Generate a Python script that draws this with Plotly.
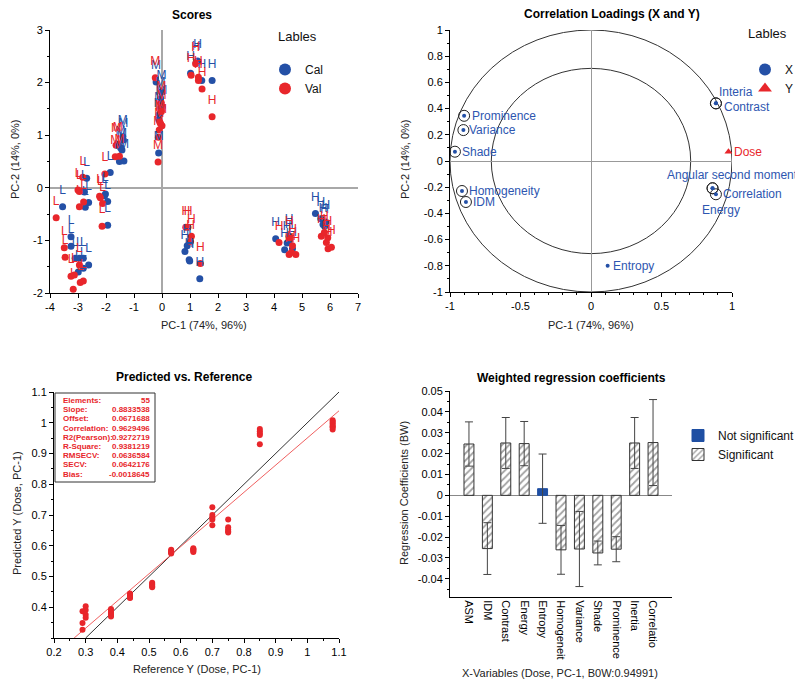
import plotly.graph_objects as go

# The page body has an 8px margin, so the figure is drawn 8px in from the top-left.
OFF = 8
W, H = 803 - OFF, 680 - OFF
BLUE = "#2450a6"
RED = "#e8262b"
TXTBLUE = "#2e56b0"
FONT = "Liberation Sans, Arial, sans-serif"

# ---------------- Scores data ----------------
cal_x = [-3.55, -3.25, -3.25, -3.10, -2.99, -2.95, -2.81, -2.81, -2.62, -2.69, -2.77, -2.62, -2.74,
         -1.85, -2.02, -1.94, -1.94, -2.05,
         -1.52, -1.36, -1.43, -1.38, -1.40, -1.48, -0.21, -0.02, 0.01, -0.05, -0.12, -0.10, -0.12, -0.05,
         1.02, 1.27, 1.42, 1.79, 1.22,
         0.82, 0.90, 0.99, 1.35, 0.97,
         4.06, 4.38, 4.47, 4.54, 4.66, 4.55,
         5.48, 5.67, 5.81, 5.85, 5.75]
cal_y = [-0.36, -0.93, -1.11, -1.34, -1.60, -1.34, -1.34, -1.53, -1.47, 0.18, -0.08, -0.28, -0.37,
         0.29, -0.12, -0.26, -0.71, -0.15,
         0.50, 0.51, 0.72, 0.91, 0.97, 0.76, 2.01, 1.82, 1.54, 1.52, 1.30, 1.40, 0.66, 1.70,
         2.18, 2.41, 2.04, 2.04, 2.38,
         -1.21, -1.10, -1.39, -1.73, -1.37,
         -0.97, -1.18, -1.05, -0.92, -1.16, -1.00,
         -0.49, -0.59, -0.73, -0.65, -0.70]
cal_lab = (["L"] * 18) + (["M"] * 14) + (["H"] * 21)

val_x = [-3.78, -3.49, -3.46, -3.25, -3.13, -3.17, -2.95, -2.92, -2.81, -3.00, -2.95, -2.83, -2.80, -2.95,
         -2.23, -2.20, -2.14, -2.12, -2.04,
         -1.67, -1.52, -1.64, -1.58, -0.24, -0.14, -0.13, -0.10, -0.05, -0.02, -0.08, 0.00, -0.03,
         1.04, 1.30, 1.43, 1.79, 1.20, 1.30,
         0.85, 0.93, 1.02, 1.05, 1.37,
         4.18, 4.54, 4.62, 4.78, 4.55, 4.66,
         5.69, 5.87, 5.93, 6.05, 5.80, 5.92]
val_y = [-0.57, -1.14, -1.32, -1.68, -1.66, -1.93, -1.47, -1.80, -1.77, -0.04, -0.36, 0.20, -0.27, -0.07,
         -0.16, -0.19, -0.73, -0.30, 0.26,
         0.59, 0.60, 0.81, 0.83, 2.09, 0.49, 0.96, 1.10, 1.22, 1.45, 1.25, 1.18, 1.62,
         2.14, 2.04, 1.88, 1.35, 2.36, 2.10,
         -0.75, -0.75, -1.02, -0.92, -1.44,
         -1.04, -1.27, -1.23, -1.27, -0.95, -1.10,
         -0.92, -1.04, -1.16, -1.13, -0.85, -0.95]
val_lab = (["L"] * 19) + (["M"] * 13) + (["H"] * 23)

# ---------------- Loadings data ----------------
load_names = ["Angular second moment", "IDM", "Contrast", "Energy", "Entropy", "Homogeneity",
              "Variance", "Shade", "Prominence", "Interia", "Correlation"]
load_x = [0.862, -0.887, 0.886, 0.862, 0.118, -0.915, -0.905, -0.965, -0.900, 0.886, 0.886]
load_y = [-0.208, -0.313, 0.440, -0.208, -0.800, -0.229, 0.236, 0.071, 0.345, 0.440, -0.254]
load_sig = [True, True, True, True, False, True, True, True, True, True, True]
y_name = ["Dose"]
y_x = [0.975]
y_y = [0.071]

# ---------------- Predicted vs reference ----------------
ref_y = [0.29, 0.29, 0.29,
         0.30, 0.30, 0.30, 0.30,
         0.38, 0.38, 0.38, 0.38, 0.38, 0.38,
         0.44, 0.44, 0.44, 0.44, 0.44,
         0.51, 0.51, 0.51, 0.51, 0.51,
         0.57, 0.57, 0.57, 0.57, 0.57,
         0.64, 0.64, 0.64, 0.64, 0.64,
         0.70, 0.70, 0.70, 0.70, 0.70,
         0.75, 0.75, 0.75, 0.75, 0.75,
         0.85, 0.85, 0.85, 0.85, 0.85,
         1.08, 1.08, 1.08, 1.08, 1.08, 1.08, 1.08]
pred_y = [0.387, 0.349, 0.327,
          0.403, 0.391, 0.376, 0.366,
          0.394, 0.389, 0.383, 0.378, 0.374, 0.370,
          0.445, 0.440, 0.436, 0.432, 0.430,
          0.480, 0.476, 0.472, 0.468, 0.465,
          0.587, 0.583, 0.580, 0.577, 0.575,
          0.592, 0.589, 0.586, 0.583, 0.580,
          0.725, 0.700, 0.692, 0.685, 0.667,
          0.685, 0.660, 0.653, 0.647, 0.643,
          0.980, 0.972, 0.965, 0.960, 0.930,
          1.008, 1.003, 0.998, 0.993, 0.988, 0.985, 0.978]
stat_names = ["Elements:", "Slope:", "Offset:", "Correlation:", "R2(Pearson):", "R-Square:",
              "RMSECV:", "SECV:", "Bias:"]
stat_values = ["55", "0.8833538", "0.0671688", "0.9629496", "0.9272719", "0.9381219",
               "0.0636584", "0.0642176", "-0.0018645"]
slope = 0.8833538
offset = 0.0671688

# ---------------- Weighted regression coefficients ----------------
bar_names = ["ASM", "IDM", "Contrast", "Energy", "Entropy", "Homogeneit", "Variance", "Shade",
             "Prominence", "Inertia", "Correlatio"]
bar_vals = [0.0246, -0.0255, 0.0251, 0.0248, 0.0032, -0.0261, -0.0257, -0.0276, -0.0258, 0.0251, 0.0253]
bar_err = [0.0106, 0.0124, 0.0122, 0.0106, 0.0166, 0.0117, 0.0180, 0.0057, 0.0060, 0.0122, 0.0206]
bar_sig = [True, True, True, True, False, True, True, True, True, True, True]


def px(x):
    return (x - OFF) / W


def py(y):
    return 1 - (y - OFF) / H


def fmt(v):
    s = f"{v:g}"
    return "0" if s in ("-0", "0") else s


fig = go.Figure()

# Scores
fig.add_trace(go.Scatter(x=cal_x, y=cal_y, mode="markers", name="Cal",
                         marker=dict(color=BLUE, size=7), xaxis="x", yaxis="y", legend="legend"))
fig.add_trace(go.Scatter(x=val_x, y=val_y, mode="markers", name="Val",
                         marker=dict(color=RED, size=7), xaxis="x", yaxis="y", legend="legend"))
for xs_, ys_, lab_, col_ in [(cal_x, cal_y, cal_lab, BLUE), (val_x, val_y, val_lab, RED)]:
    fig.add_trace(go.Scatter(x=xs_, y=ys_, mode="markers+text", text=lab_, textposition="top center",
                             marker=dict(size=14, color="rgba(0,0,0,0)"),
                             textfont=dict(color=col_, size=12, family=FONT), showlegend=False,
                             xaxis="x", yaxis="y", hoverinfo="skip"))

# Loadings
sx = [x for x, s in zip(load_x, load_sig) if s]
sy = [y for y, s in zip(load_y, load_sig) if s]
fig.add_trace(go.Scatter(x=sx, y=sy, mode="markers", showlegend=False,
                         marker=dict(symbol="circle-open", size=11, color="#222", line=dict(width=1)),
                         xaxis="x2", yaxis="y2", hoverinfo="skip"))
fig.add_trace(go.Scatter(x=load_x, y=load_y, mode="markers", name="X",
                         marker=dict(color=BLUE, size=4), xaxis="x2", yaxis="y2", legend="legend2"))
fig.add_trace(go.Scatter(x=y_x, y=y_y, mode="markers", name="Y",
                         marker=dict(color=RED, size=7, symbol="triangle-up"),
                         xaxis="x2", yaxis="y2", legend="legend2"))

# Predicted vs reference
fig.add_trace(go.Scatter(x=[0.3, 1.1], y=[0.3, 1.1], mode="lines", line=dict(color="#333", width=1),
                         showlegend=False, xaxis="x3", yaxis="y3", hoverinfo="skip"))
x_lo = (0.3 - offset) / slope
fig.add_trace(go.Scatter(x=[x_lo, 1.1], y=[0.3, slope * 1.1 + offset], mode="lines",
                         line=dict(color="#f06060", width=1),
                         showlegend=False, xaxis="x3", yaxis="y3", hoverinfo="skip"))
fig.add_trace(go.Scatter(x=ref_y, y=pred_y, mode="markers", marker=dict(color=RED, size=6),
                         showlegend=False, xaxis="x3", yaxis="y3"))

# Bars
for sig, name in [(False, "Not significant"), (True, "Significant")]:
    xs = [n for n, s in zip(bar_names, bar_sig) if s == sig]
    ys = [v for v, s in zip(bar_vals, bar_sig) if s == sig]
    es = [e for e, s in zip(bar_err, bar_sig) if s == sig]
    if sig:
        marker = dict(color="white", line=dict(color="#333", width=1),
                      pattern=dict(shape="/", fgcolor="#444", bgcolor="white", size=5, solidity=0.35))
    else:
        marker = dict(color="#1f4fa3", line=dict(color="#1f4fa3", width=1))
    fig.add_trace(go.Bar(x=xs, y=ys, name=name, marker=marker, width=0.54,
                         error_y=dict(type="data", array=es, color="#444", thickness=1, width=4),
                         xaxis="x4", yaxis="y4", legend="legend3"))

axis_common = dict(showline=True, linecolor="black", linewidth=1, ticks="outside", ticklen=4,
                   tickcolor="black", showgrid=False, tickfont=dict(size=11, color="black", family=FONT),
                   mirror=False, automargin=False)

sc_xt = list(range(-4, 8))
sc_yt = list(range(-2, 4))
ld_xt = [-1, -0.5, 0, 0.5, 1]
ld_yt = [round(-1 + 0.2 * i, 1) for i in range(11)]
pr_xt = [round(0.2 + 0.1 * i, 1) for i in range(10)]
pr_yt = [round(0.4 + 0.1 * i, 1) for i in range(8)]
br_yt = [round(-0.04 + 0.01 * i, 2) for i in range(10)]

fig.update_layout(
    width=W, height=H, margin=dict(l=0, r=0, t=0, b=0, pad=0, autoexpand=False),
    paper_bgcolor="white", plot_bgcolor="white",
    font=dict(family=FONT, size=11, color="#222"),
    barmode="overlay",
    xaxis=dict(axis_common, domain=[px(50), px(358)], range=[-4, 7], tickvals=sc_xt,
               ticktext=[fmt(v) for v in sc_xt], anchor="y",
               zeroline=True, zerolinecolor="#a8a8a8", zerolinewidth=1.5),
    yaxis=dict(axis_common, domain=[py(293), py(30)], range=[-2, 3], tickvals=sc_yt,
               ticktext=[fmt(v) for v in sc_yt], anchor="x",
               zeroline=True, zerolinecolor="#a8a8a8", zerolinewidth=1.5,
               minor=dict(ticks="outside", ticklen=2, dtick=0.5, tickcolor="black")),
    xaxis2=dict(axis_common, domain=[px(450), px(732)], range=[-1, 1], tickvals=ld_xt,
                ticktext=[fmt(v) for v in ld_xt], anchor="y2",
                zeroline=True, zerolinecolor="#999", zerolinewidth=1,
                minor=dict(ticks="outside", ticklen=2, dtick=0.1, tickcolor="black")),
    yaxis2=dict(axis_common, domain=[py(292), py(30)], range=[-1, 1], tickvals=ld_yt,
                ticktext=[fmt(v) for v in ld_yt], anchor="x2",
                zeroline=True, zerolinecolor="#999", zerolinewidth=1,
                minor=dict(ticks="outside", ticklen=2, dtick=0.1, tickcolor="black")),
    xaxis3=dict(axis_common, domain=[px(54), px(339)], range=[0.2, 1.1], tickvals=pr_xt,
                ticktext=[fmt(v) for v in pr_xt], anchor="y3", zeroline=False,
                minor=dict(ticks="outside", ticklen=2, dtick=0.05, tickcolor="black")),
    yaxis3=dict(axis_common, domain=[py(638), py(392)], range=[0.3, 1.1], tickvals=pr_yt,
                ticktext=[fmt(v) for v in pr_yt], anchor="x3", zeroline=False,
                minor=dict(ticks="outside", ticklen=2, dtick=0.05, tickcolor="black")),
    xaxis4=dict(axis_common, domain=[px(450), px(672)], range=[-1.03, 11.03], anchor="y4",
                type="category", categoryorder="array", categoryarray=bar_names,
                tickangle=90, ticks="", zeroline=False),
    yaxis4=dict(axis_common, domain=[py(597), py(391)], range=[-0.0487, 0.05], tickvals=br_yt,
                ticktext=[fmt(v) for v in br_yt], anchor="x4",
                zeroline=True, zerolinecolor="#888", zerolinewidth=1,
                minor=dict(ticks="outside", ticklen=2, dtick=0.005, tickcolor="black")),
    legend=dict(x=px(265), y=py(55), xanchor="left", yanchor="top", itemsizing="constant",
                font=dict(size=12, color="#111"), bgcolor="rgba(0,0,0,0)", tracegroupgap=0),
    legend2=dict(x=px(745), y=py(55), xanchor="left", yanchor="top", itemsizing="constant",
                 font=dict(size=12, color="#111"), bgcolor="rgba(0,0,0,0)", tracegroupgap=0),
    legend3=dict(x=px(678), y=py(421), xanchor="left", yanchor="top",
                 font=dict(size=12, color="#111"), bgcolor="rgba(0,0,0,0)", tracegroupgap=0,
                 traceorder="normal"),
)

# Circles for loadings
for r in (1.0, 0.7071):
    fig.add_shape(type="circle", xref="x2", yref="y2", x0=-r, y0=-r, x1=r, y1=r,
                  line=dict(color="#333", width=1), layer="below")

# Stats box
fig.add_shape(type="rect", xref="paper", yref="paper", x0=px(55), x1=px(155), y0=py(482), y1=py(393),
              line=dict(color="#333", width=1), fillcolor="white", layer="above")

ann = []


def A(text, x, y, size=11, color="#222", bold=False, angle=0, xanchor="center", yanchor="middle",
      xref="paper", yref="paper", xshift=0, yshift=0, family=FONT):
    ann.append(dict(text=("<b>%s</b>" % text) if bold else text, x=x, y=y, xref=xref, yref=yref,
                    showarrow=False, textangle=angle, xanchor=xanchor, yanchor=yanchor,
                    xshift=xshift, yshift=yshift, font=dict(size=size, color=color, family=family)))


# Titles
A("Scores", px(192), py(15), size=12, color="black", bold=True)
A("Correlation Loadings (X and Y)", px(612), py(14), size=12, color="black", bold=True)
A("Predicted vs. Reference", px(184), py(377), size=12, color="black", bold=True)
A("Weighted regression coefficients", px(571), py(378), size=12, color="black", bold=True)
# Axis titles
A("PC-1 (74%, 96%)", px(204), py(325))
A("PC-1 (74%, 96%)", px(591), py(325))
A("PC-2 (14%, 0%)", px(15), py(160), angle=-90)
A("PC-2 (14%, 0%)", px(405), py(160), angle=-90)
A("Reference Y (Dose, PC-1)", px(197), py(669))
A("Predicted Y (Dose, PC-1)", px(17), py(513), angle=-90)
A("X-Variables (Dose, PC-1, B0W:0.94991)", px(560), py(673))
A("Regression Coefficients (BW)", px(404), py(493), angle=-90)
# Legend titles
A("Lables", px(297), py(37), size=13, color="#111")
A("Lables", px(767), py(34), size=13, color="#111")

# Loading labels: (xanchor, yanchor, xshift, yshift)
lab_pos = {
    "Angular second moment": ("center", "bottom", 20, 4),
    "IDM": ("left", "middle", 5, 0),
    "Contrast": ("left", "middle", 6, -4),
    "Energy": ("center", "top", 8, -13),
    "Entropy": ("left", "middle", 3, 0),
    "Homogeneity": ("left", "middle", 5, 0),
    "Variance": ("left", "middle", 4, 0),
    "Shade": ("left", "middle", 5, 0),
    "Prominence": ("left", "middle", 6, 0),
    "Interia": ("left", "middle", 1, 11),
    "Correlation": ("left", "middle", 5, 0),
}
for n, x, y in zip(load_names, load_x, load_y):
    xa, ya, xs, ys = lab_pos[n]
    A(n, x, y, size=12, color=TXTBLUE, xanchor=xa, yanchor=ya, xref="x2", yref="y2", xshift=xs, yshift=ys)
for n, x, y in zip(y_name, y_x, y_y):
    A(n, x, y, size=12, color=RED, xanchor="left", xref="x2", yref="y2", xshift=4)

# Stats text
for i, (n, v) in enumerate(zip(stat_names, stat_values)):
    yy = 400.5 + i * 9.2
    A(n, px(61), py(yy), size=8, color=RED, bold=True, xanchor="left")
    A(v, px(152), py(yy), size=8, color=RED, bold=True, xanchor="right")

fig.update_layout(annotations=ann)
fig.write_html("out.html")
